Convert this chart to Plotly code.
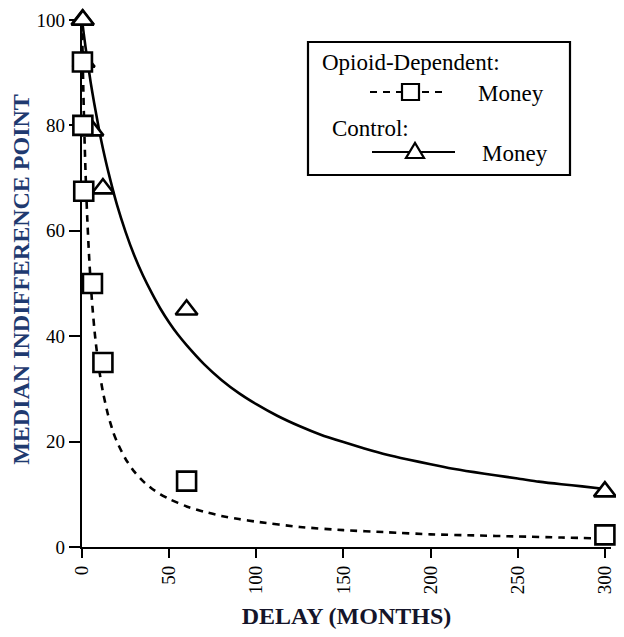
import plotly.graph_objects as go

# ---- data ----
delay_months = [0.25, 0.5, 1, 6, 12, 60, 300]
opioid_money = [92, 80, 67.5, 50, 35, 12.5, 2.3]
control_money = [100, 100, 92, 79, 68, 45, 10.5]

# fitted hyperbolic curves
control_fit_x = [0, 1, 2, 3, 5, 7, 10, 12, 15, 20, 25, 30, 35, 40, 45, 50, 55, 60, 70, 80, 90, 100,
                 112, 125, 137, 150, 162, 175, 187, 200, 212, 225, 237, 250, 262, 275, 287, 300]
control_fit_y = [100, 97.4, 94.9, 92.6, 88.1, 84.2, 78.8, 75.6, 71.3, 65.0, 59.8, 55.3, 51.5, 48.2,
                 45.2, 42.6, 40.3, 38.3, 34.7, 31.7, 29.2, 27.1, 24.9, 22.9, 21.3, 19.9, 18.7, 17.5,
                 16.6, 15.7, 14.9, 14.2, 13.6, 13.0, 12.4, 11.9, 11.5, 11.0]
opioid_fit_x = [0, 0.25, 0.5, 0.75, 1, 1.5, 2, 2.5, 3, 4, 5, 6, 7, 8, 10, 12, 15, 18, 20, 25, 30, 35,
                40, 45, 50, 60, 70, 80, 90, 100, 125, 150, 175, 200, 225, 250, 275, 300]
opioid_fit_y = [100, 95.2, 90.9, 87.0, 83.3, 76.9, 71.4, 66.7, 62.5, 55.6, 50, 45.5, 41.7, 38.5, 33.3,
                29.4, 25, 21.7, 20, 16.7, 14.3, 12.5, 11.1, 10.0, 9.1, 7.7, 6.7, 5.9, 5.3, 4.8, 3.8,
                3.2, 2.8, 2.4, 2.2, 2.0, 1.8, 1.6]

x_ticks = [0, 50, 100, 150, 200, 250, 300]
y_ticks = [0, 20, 40, 60, 80, 100]

# the page body has an 8px margin, so the figure is made 8px smaller and shifted
OFF = 8
W, H = 624 - OFF, 637 - OFF
L, R, T, B = 82 - OFF, 13, 12 - OFF, 90
SERIF = "Liberation Serif, Times New Roman, serif"

fig = go.Figure()
fig.add_trace(go.Scatter(x=control_fit_x, y=control_fit_y, mode="lines",
                         line=dict(color="black", width=2.6, shape="spline", smoothing=0.6),
                         hoverinfo="skip", cliponaxis=False))
fig.add_trace(go.Scatter(x=opioid_fit_x, y=opioid_fit_y, mode="lines",
                         line=dict(color="black", width=2.6, dash="7px,6px", shape="spline", smoothing=0.6),
                         hoverinfo="skip", cliponaxis=False))
fig.add_trace(go.Scatter(x=delay_months, y=control_money, mode="markers", name="Control: Money",
                         marker=dict(symbol="triangle-up", size=19, color="white",
                                     line=dict(color="black", width=2.6)), cliponaxis=False))
fig.add_trace(go.Scatter(x=delay_months, y=opioid_money, mode="markers", name="Opioid-Dependent: Money",
                         marker=dict(symbol="square", size=19, color="white",
                                     line=dict(color="black", width=2.6)), cliponaxis=False))

plot_w = W - L - R
plot_h = H - T - B


def px(x):
    # window pixel -> paper fraction
    return (x - OFF - L) / plot_w


def py(y):
    return (H - B - (y - OFF)) / plot_h


shapes = []
# legend box
shapes.append(dict(type="rect", xref="paper", yref="paper", x0=px(308), x1=px(570), y0=py(175), y1=py(42),
                   line=dict(color="black", width=2.2), fillcolor="white", layer="above"))
# opioid sample: dashed line + square
shapes.append(dict(type="line", xref="paper", yref="paper", x0=px(370), x1=px(443), y0=py(92), y1=py(92),
                   line=dict(color="black", width=2.2, dash="7px,6px"), layer="above"))
shapes.append(dict(type="rect", xref="paper", yref="paper", x0=px(402), x1=px(419), y0=py(100), y1=py(84),
                   line=dict(color="black", width=2.2), fillcolor="white", layer="above"))
# control sample: solid line + triangle
shapes.append(dict(type="line", xref="paper", yref="paper", x0=px(372), x1=px(455), y0=py(152), y1=py(152),
                   line=dict(color="black", width=2.2), layer="above"))
shapes.append(dict(type="path", xref="paper", yref="paper",
                   path=f"M {px(406)} {py(158)} L {px(424)} {py(158)} L {px(415)} {py(143)} Z",
                   line=dict(color="black", width=2.2), fillcolor="white", layer="above"))

annotations = [
    dict(text="Opioid-Dependent:", x=px(320), y=py(62), xref="paper", yref="paper", xanchor="left",
         yanchor="middle", showarrow=False, font=dict(family=SERIF, size=23, color="black")),
    dict(text="Money", x=px(476), y=py(93), xref="paper", yref="paper", xanchor="left",
         yanchor="middle", showarrow=False, font=dict(family=SERIF, size=23, color="black")),
    dict(text="Control:", x=px(330), y=py(128), xref="paper", yref="paper", xanchor="left",
         yanchor="middle", showarrow=False, font=dict(family=SERIF, size=23, color="black")),
    dict(text="Money", x=px(480), y=py(154), xref="paper", yref="paper", xanchor="left",
         yanchor="middle", showarrow=False, font=dict(family=SERIF, size=23, color="black")),
]

fig.update_layout(
    width=W, height=H,
    margin=dict(l=L, r=R, t=T, b=B, pad=0),
    paper_bgcolor="white", plot_bgcolor="white",
    showlegend=False,
    shapes=shapes,
    annotations=annotations,
    font=dict(family=SERIF, color="black"),
    xaxis=dict(range=[0, 303.5], tickvals=x_ticks, ticktext=[str(v) for v in x_ticks],
               tickangle=-90, ticks="outside", ticklen=9, tickwidth=2, tickcolor="black",
               showline=True, linecolor="black", linewidth=2.4, showgrid=False, zeroline=False,
               tickfont=dict(family=SERIF, size=19, color="black"), layer="below traces",
               automargin=False,
               title=dict(text="<b>DELAY (MONTHS)</b>", standoff=14,
                          font=dict(family="Liberation Serif, serif", size=24, color="#15152a"))),
    yaxis=dict(range=[0, 101.5], tickvals=y_ticks, ticktext=[str(v) for v in y_ticks],
               ticks="outside", ticklen=11, tickwidth=2, tickcolor="black",
               showline=True, linecolor="black", linewidth=2.4, showgrid=False, zeroline=False,
               tickfont=dict(family=SERIF, size=19, color="black"), layer="below traces",
               automargin=False,
               title=dict(text="<b>MEDIAN INDIFFERENCE POINT</b>", standoff=0,
                          font=dict(family="Liberation Serif, serif", size=24, color="#1F3A70"))),
)

fig.write_html("out.html")
